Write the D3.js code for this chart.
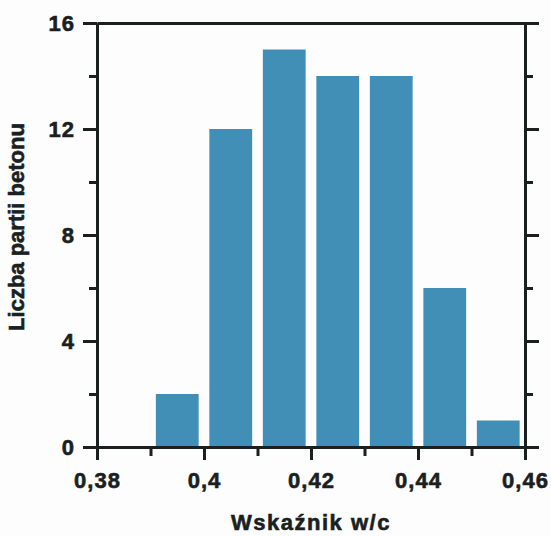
<!DOCTYPE html>
<html>
<head>
<meta charset="utf-8">
<script src="https://cdn.jsdelivr.net/npm/d3@7"></script>
<style>
html,body{margin:0;padding:0;background:#fdfdfd;}
svg{display:block;}
text{font-family:"Liberation Sans",Arial,Helvetica,sans-serif;font-weight:bold;fill:#1a1f1f;stroke:#1a1f1f;stroke-width:0.6px;}
</style>
</head>
<body>
<svg id="chart" width="551" height="536"></svg>
<script>
// Data
const binStarts = [0.39, 0.40, 0.41, 0.42, 0.43, 0.44, 0.45];
const binWidth = 0.01;
const counts = [2, 12, 15, 14, 14, 6, 1];
const xMajorTicks = [0.38, 0.40, 0.42, 0.44, 0.46];
const xTickLabels = ["0,38", "0,4", "0,42", "0,44", "0,46"];
const xMinorTicks = [0.39, 0.41, 0.43, 0.45];
const yMajorTicks = [0, 4, 8, 12, 16];
const yMinorTicks = [2, 6, 10, 14];
const xTitle = "Wskaźnik w/c";
const yTitle = "Liczba partii betonu";

const svg = d3.select("#chart");
const L = 97, R = 525, T = 23, B = 447;
const x = d3.scaleLinear().domain([0.38, 0.46]).range([L, R]);
const y = d3.scaleLinear().domain([0, 16]).range([B, T]);
const axisColor = "#1a1f1f";
const barColor = "#418fb6";

// Bars
const inset = 0.1; // fraction of bin on each side
svg.append("g").selectAll("rect").data(binStarts).join("rect")
  .attr("x", (d) => x(d + binWidth * inset))
  .attr("width", (d) => x(d + binWidth * (1 - inset)) - x(d + binWidth * inset))
  .attr("y", (d, i) => y(counts[i]))
  .attr("height", (d, i) => y(0) - y(counts[i]))
  .attr("fill", barColor);

function styleAxis(g, width) {
  g.selectAll(".domain").attr("stroke", axisColor).attr("stroke-width", 3);
  g.selectAll(".tick line").attr("stroke", axisColor).attr("stroke-width", width);
}

// Left axis
const gl = svg.append("g").attr("transform", `translate(${L},0)`)
  .call(d3.axisLeft(y).tickValues(yMajorTicks).tickSize(14).tickSizeOuter(0).tickPadding(8).tickFormat(d3.format("d")));
styleAxis(gl, 3);
gl.selectAll("text").attr("font-size", 22).attr("letter-spacing", 1).attr("fill", axisColor);
const glm = svg.append("g").attr("transform", `translate(${L},0)`)
  .call(d3.axisLeft(y).tickValues(yMinorTicks).tickSize(8).tickSizeOuter(0).tickFormat(""));
styleAxis(glm, 3);

// Right axis
const gr = svg.append("g").attr("transform", `translate(${R},0)`)
  .call(d3.axisRight(y).tickValues(yMajorTicks).tickSize(14).tickSizeOuter(0).tickFormat(""));
styleAxis(gr, 3);
const grm = svg.append("g").attr("transform", `translate(${R},0)`)
  .call(d3.axisRight(y).tickValues(yMinorTicks).tickSize(8).tickSizeOuter(0).tickFormat(""));
styleAxis(grm, 3);

// Top line
const gt = svg.append("g").attr("transform", `translate(0,${T})`)
  .call(d3.axisTop(x).tickValues([]).tickSizeOuter(0));
styleAxis(gt, 3);

// Bottom axis
const gb = svg.append("g").attr("transform", `translate(0,${B})`)
  .call(d3.axisBottom(x).tickValues(xMajorTicks).tickSize(13).tickSizeOuter(0).tickPadding(12)
    .tickFormat((d, i) => xTickLabels[i]));
styleAxis(gb, 3);
gb.selectAll("text").attr("font-size", 22).attr("letter-spacing", 1).attr("fill", axisColor);
const gbm = svg.append("g").attr("transform", `translate(0,${B})`)
  .call(d3.axisBottom(x).tickValues(xMinorTicks).tickSize(9).tickSizeOuter(0).tickFormat(""));
styleAxis(gbm, 3);

// Titles
svg.append("text").attr("x", (L + R) / 2).attr("y", 530)
  .attr("text-anchor", "middle").attr("font-size", 22).attr("letter-spacing", 1.5)
  .text(xTitle);
svg.append("text").attr("transform", "translate(24,227) rotate(-90)")
  .attr("text-anchor", "middle").attr("font-size", 22).attr("letter-spacing", 0)
  .text(yTitle);
</script>
</body>
</html>
